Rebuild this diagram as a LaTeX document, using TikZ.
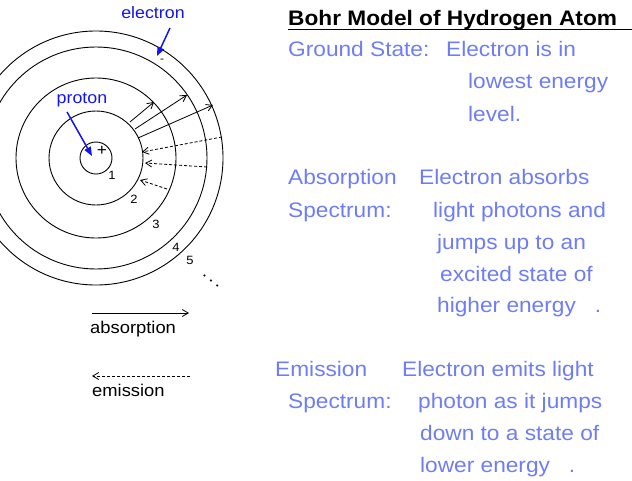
\documentclass[tikz,border=0pt]{standalone}
\usepackage{fontspec}
\setmainfont[FakeStretch=1.08]{Liberation Sans}
\usetikzlibrary{arrows.meta}
\definecolor{txt}{RGB}{110,125,245}
\definecolor{lab}{RGB}{20,20,240}
\begin{document}
\begin{tikzpicture}[x=1pt,y=-1pt,
  orbit/.style={line width=0.9pt},
  jump/.style={line width=0.8pt,-{Straight Barb[length=6pt,width=7pt]}},
  fall/.style={line width=0.8pt,dashed,dash pattern=on 3pt off 2pt,-{Straight Barb[length=6pt,width=7pt]}},
  tx/.style={anchor=base west,inner sep=0pt,text=txt,font=\fontsize{21}{22}\selectfont},
  num/.style={inner sep=0pt,font=\fontsize{12}{12}\selectfont},
  lbl/.style={inner sep=0pt,text=lab,font=\fontsize{16.5}{17}\selectfont},
  leg/.style={inner sep=0pt,font=\fontsize{17}{18}\selectfont},
  point/.style={lab,line width=1.5pt,-{Triangle[length=9pt,width=7pt]}}]
\useasboundingbox (0,0) rectangle (632,480);
\coordinate (c) at (96,158);
\foreach \r in {16,47,80,111,127} \draw[orbit] (c) circle (\r);
\node[inner sep=0pt,font=\fontsize{16}{16}\selectfont] (plus) at (102,151) {+};
\node[inner sep=0pt,font=\fontsize{11}{11}\selectfont] (minus) at (162,61) {-};
\node[num] (n1) at (112,175) {1};
\node[num] (n2) at (134,199) {2};
\node[num] (n3) at (156,224) {3};
\node[num] (n4) at (176,247) {4};
\node[num] (n5) at (190,260) {5};
\node[inner sep=0pt,font=\bfseries\fontsize{12}{12}\selectfont,rotate=-40] (dots) at (211,281) {. . .};
% jumps
\coordinate (a1s) at (130,122); \coordinate (a1e) at (154,102);
\coordinate (a2s) at (135,129); \coordinate (a2e) at (187,95);
\coordinate (a3s) at (138,138); \coordinate (a3e) at (213,105);
\draw[jump] (a1s) -- (a1e);
\draw[jump] (a2s) -- (a2e);
\draw[jump] (a3s) -- (a3e);
\coordinate (e1s) at (222,137); \coordinate (e1e) at (142,152);
\coordinate (e2s) at (207,167); \coordinate (e2e) at (145,163);
\coordinate (e3s) at (167,189); \coordinate (e3e) at (140,180);
\draw[fall] (e1s) -- (e1e);
\draw[fall] (e2s) -- (e2e);
\draw[fall] (e3s) -- (e3e);
% labels
\node[lbl] (el) at (153,13) {electron};
\coordinate (elt) at (157,56);
\draw[point] (170,28) -- (elt);
\node[lbl] (pr) at (82,100) {proton};
\coordinate (prt) at (92,156);
\draw[point] (67,112) -- (prt);
% legend
\coordinate (l1a) at (92,313); \coordinate (l1b) at (189,313);
\draw[jump] (l1a) -- (l1b);
\node[leg,anchor=west] (absl) at (90,329) {absorption};
\coordinate (l2a) at (190,376); \coordinate (l2b) at (92,376);
\draw[fall] (l2a) -- (l2b);
\node[leg,anchor=west] (emil) at (92,390) {emission};
% text
\node[anchor=base west,inner sep=0pt,font=\bfseries\fontsize{21}{22}\selectfont] (title) at (288,25) {Bohr Model of Hydrogen Atom};
\draw[line width=1pt] (288,29) -- (632,29);
\node[tx] at (288,56) {Ground State:};
\node[tx] at (446,56) {Electron is in};
\node[tx] at (468,88) {lowest energy};
\node[tx] at (468,121) {level.};
\node[tx] at (288,184) {Absorption};
\node[tx] at (419,184) {Electron absorbs};
\node[tx] at (288,217) {Spectrum:};
\node[tx] at (433,217) {light photons and};
\node[tx] at (437,249) {jumps up to an};
\node[tx] at (440,281) {excited state of};
\node[tx] at (437,312) {higher energy\ \ \ .};
\node[tx] at (275,376) {Emission};
\node[tx] at (402,376) {Electron emits light};
\node[tx] at (288,408) {Spectrum:};
\node[tx] at (418,408) {photon as it jumps};
\node[tx] at (420,440) {down to a state of};
\node[tx] at (420,472) {lower energy\ \ \ .};
\end{tikzpicture}
\end{document}
